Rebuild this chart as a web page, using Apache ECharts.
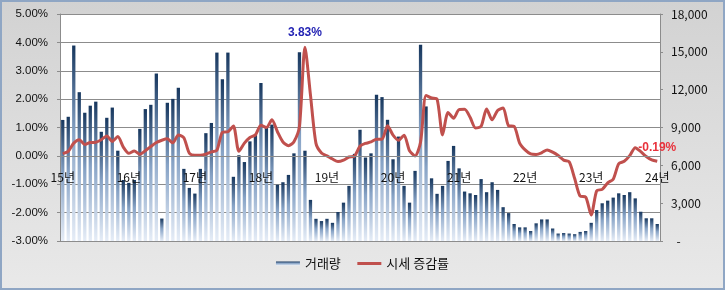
<!DOCTYPE html>
<html><head><meta charset="utf-8">
<script src="https://cdn.jsdelivr.net/npm/echarts@6/dist/echarts.min.js"></script>
<style>html,body{margin:0;padding:0;background:#fff}#c{width:725px;height:290px}</style>
</head><body><div id="c"></div>
<script>
// Year tick labels (one per January)
const yearLabels = ['15년','16년','17년','18년','19년','20년','21년','22년','23년','24년'];
// Monthly categories: Jan 2015 .. Jan 2024
const categories = [];
for (let y = 15; y <= 24; y++) {
  const last = (y === 24) ? 1 : 12;
  for (let m = 1; m <= last; m++) categories.push(y + '.' + (m < 10 ? '0' + m : m));
}
// 거래량 (right axis)
const volume = [
  9600, 9850, 15500, 11800, 10170, 10730, 11050, 8660, 9770, 10580, 7160, 4840,
  4610, 4840, 8890, 10460, 10800, 13280, 1780, 10960, 11270, 12150, 5720, 4210,
  3760, 5720, 8550, 9360, 14940, 12830, 14940, 5090, 6800, 6260, 7900, 8420,
  12530, 8960, 9230, 4460, 4660, 5240, 6950, 14960, 7160, 3260, 1760, 1580,
  1760, 1440, 2300, 3040, 4370, 6910, 8820, 6620, 6950, 11590, 11410, 9610,
  6480, 8280, 4370, 3040, 5560, 15570, 10670, 4970, 3740, 4370, 6350, 7540,
  5760, 3920, 3780, 3650, 4910, 3870, 4660, 4050, 2680, 2210, 1350, 1080,
  1080, 790, 1400, 1710, 1710, 990, 590, 630, 590, 540, 720, 790,
  1440, 2450, 2990, 3200, 3440, 3780, 3650, 3870, 3380, 2320, 1800, 1800,
  1350
];
// 시세 증감률 (%) (left axis)
const rate = [
  0.08, 0.16, 0.45, 0.57, 0.40, 0.47, 0.48, 0.57, 0.70, 0.51, 0.68, 0.31,
  0.09, 0.17, 0.06, 0.18, 0.33, 0.47, 0.55, 0.60, 0.46, 0.74, 0.64, 0.09,
  0.02, 0.02, 0.06, 0.14, 0.20, 0.83, 0.85, 1.05, 0.16, 0.45, 0.65, 0.74,
  1.08, 1.00, 1.27, 0.85, 0.49, 0.36, 0.50, 1.04, 3.83, 2.15, 0.44, 0.10,
  0.00, -0.11, -0.20, -0.15, -0.04, -0.01, 0.34, 0.44, 0.49, 0.59, 0.59, 1.06,
  0.73, 0.55, 0.73, 0.18, 0.00, 0.48, 2.13, 2.04, 2.00, 0.74, 1.53, 1.33,
  1.63, 1.64, 1.36, 0.98, 1.04, 1.65, 1.27, 1.60, 1.69, 1.06, 1.04, 0.45,
  0.21, 0.07, 0.05, 0.11, 0.21, 0.13, 0.01, -0.15, -0.21, -0.80, -1.42, -1.45,
  -2.08, -1.23, -1.18, -0.95, -0.82, -0.28, -0.19, 0.01, 0.29, 0.15, -0.02, -0.14,
  -0.19
];
const leftTicks = { min: -3, max: 5, interval: 1 };
const rightTicks = { min: 0, max: 18000, interval: 3000 };

const W = 725, H = 290;
const gridBox = { left: 60, right: 65, top: 14, bottom: 49 };
const plotH = H - gridBox.top - gridBox.bottom;
// move the category axis up to the 0% line of the left axis
const zeroOffset = -plotH * (0 - leftTicks.min) / (leftTicks.max - leftTicks.min);

const chart = echarts.init(document.getElementById('c'));
const cjk = '"Noto Sans CJK KR", "Noto Sans", sans-serif';
const latin = '"Liberation Sans", "Noto Sans CJK KR", sans-serif';
const grey = '#8c8c8c';
const lineColor = '#C0504D';
let maxIdx = 0;
rate.forEach((v, i) => { if (v > rate[maxIdx]) maxIdx = i; });
const lastIdx = rate.length - 1;
const pct = p => p.value.toFixed(2) + '%';
const lineData = rate.map((v, i) => {
  if (i === maxIdx) return { value: v, label: { show: true, position: 'top', distance: 9, color: '#2424B4', fontWeight: 'bold', fontSize: 12, fontFamily: latin, formatter: pct } };
  if (i === lastIdx) return { value: v, label: { show: true, position: 'top', distance: 8, color: '#E8323C', fontWeight: 'bold', fontSize: 12, fontFamily: latin, formatter: pct } };
  return v;
});

chart.setOption({
  animation: false,
  backgroundColor: new echarts.graphic.LinearGradient(0, 0, 0, 1, [
    { offset: 0, color: '#D2D2D2' }, { offset: 1, color: '#E9E9E9' }
  ]),
  textStyle: { fontFamily: cjk },
  graphic: [{
    type: 'rect', silent: true, z: 100,
    shape: { x: 1, y: 1, width: W - 2, height: H - 2 },
    style: { fill: null, stroke: '#8FA6C4', lineWidth: 2 }
  }],
  grid: Object.assign({ show: true, backgroundColor: '#ffffff', borderWidth: 0 }, gridBox),
  legend: {
    bottom: 15, left: 'center',
    itemWidth: 24, itemHeight: 4, itemGap: 15,
    textStyle: { fontSize: 13, color: '#111', fontFamily: cjk },
    data: [
      { name: '거래량', icon: 'rect' },
      { name: '시세 증감률', itemStyle: { opacity: 0 }, lineStyle: { width: 3, color: lineColor } }
    ]
  },
  xAxis: {
    type: 'category', data: categories, boundaryGap: true, z: 10,
    position: 'bottom', offset: zeroOffset,
    axisLine: { onZero: false, lineStyle: { color: grey } },
    axisTick: { interval: 3, length: 4, lineStyle: { color: grey } },
    axisLabel: {
      interval: 11, margin: 16, color: '#111', fontSize: 12,
      formatter: v => yearLabels[parseInt(v.split('.')[0], 10) - 15]
    }
  },
  yAxis: [{
    type: 'value', position: 'left', min: leftTicks.min, max: leftTicks.max, interval: leftTicks.interval,
    axisLine: { show: true, lineStyle: { color: grey } },
    axisTick: { show: true, length: 3, lineStyle: { color: grey } },
    splitLine: { lineStyle: { color: grey } },
    axisLabel: { margin: 12, color: '#111', fontSize: 11.5, fontFamily: latin, formatter: v => v.toFixed(2) + '%' }
  }, {
    type: 'value', position: 'right', min: rightTicks.min, max: rightTicks.max, interval: rightTicks.interval,
    axisLine: { show: true, lineStyle: { color: grey } },
    axisTick: { show: true, length: 3, lineStyle: { color: grey } },
    splitLine: { show: false },
    axisLabel: { margin: 11, color: '#111', fontSize: 12, formatter: v => v === 0 ? '  -' : v.toLocaleString('en-US') }
  }],
  series: [{
    name: '거래량', type: 'bar', yAxisIndex: 1, data: volume, barWidth: '60%',
    itemStyle: {
      color: new echarts.graphic.LinearGradient(0, 0, 0, 1, [
        { offset: 0, color: '#17375E' }, { offset: 0.45, color: '#87A3C6' }, { offset: 1, color: '#E6EDF7' }
      ])
    }
  }, {
    name: '시세 증감률', type: 'line', yAxisIndex: 0, data: lineData,
    smooth: 0.25, showSymbol: true, symbol: 'circle', symbolSize: 0, z: 5,
    color: lineColor,
    itemStyle: { color: lineColor },
    lineStyle: { color: lineColor, width: 3 }
  }]
});
</script></body></html>
